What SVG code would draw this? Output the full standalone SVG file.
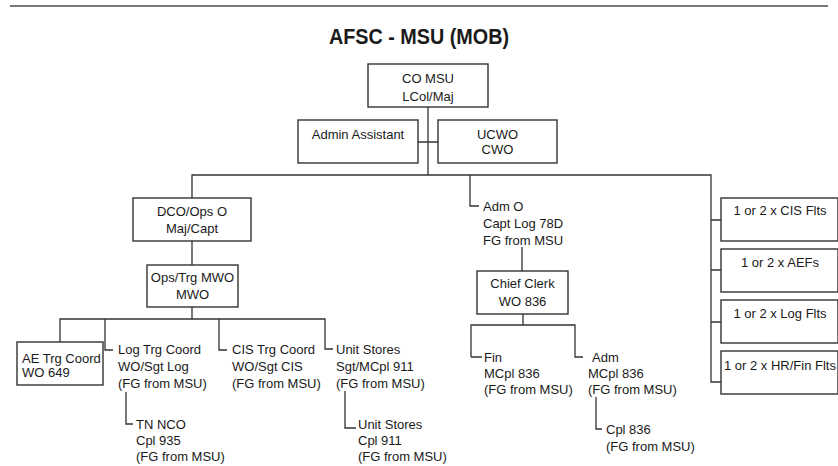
<svg xmlns="http://www.w3.org/2000/svg" width="838" height="466" viewBox="0 0 838 466">
<style>
text{font-family:"Liberation Sans",Arial,sans-serif;font-size:13px;fill:#1a1a1a}
.c{text-anchor:middle}
.t{font-weight:bold;font-size:22px}
rect{fill:#fff;stroke:#333;stroke-width:1.4}
#connectors path{fill:none;stroke:#333;stroke-width:1.3}
</style>
<rect width="838" height="466" style="fill:#fff;stroke:none"/>
<line x1="10" y1="6" x2="828" y2="6" stroke="#777" stroke-width="2.2"/>
<text class="t c" x="419" y="44" textLength="180" lengthAdjust="spacingAndGlyphs">AFSC - MSU (MOB)</text>
<g id="connectors">
<path d="M428 107V175M418 142H438"/>
<path d="M192 198V175H711V382H721M711 220H721M711 270H721M711 322H721"/>
<path d="M192 241V265M192 307V319M60 342V319H325V349H333M105 319V350H113M219 319V350H227"/>
<path d="M126 392V424H133M345 391V428H356"/>
<path d="M470 175V206H479M522 247V271M523 314V325M471 357V325H575V357H583M471 357H482M596 397V429H602"/>
</g>
<g id="co"><rect x="368" y="64" width="120" height="43"/><text class="c" x="428" y="82.5">CO MSU</text><text class="c" x="428" y="101">LCol/Maj</text></g>
<g id="admin"><rect x="298" y="120" width="120" height="43"/><text class="c" x="358" y="139">Admin Assistant</text></g>
<g id="ucwo"><rect x="438" y="120" width="119" height="43"/><text class="c" x="497.5" y="138.5">UCWO</text><text class="c" x="497.5" y="153.5">CWO</text></g>
<g id="dco"><rect x="133" y="198" width="118" height="43"/><text class="c" x="192" y="215.5">DCO/Ops O</text><text class="c" x="192" y="232.5">Maj/Capt</text></g>
<g id="opstrg"><rect x="147" y="265" width="91" height="42"/><text class="c" x="192.5" y="281.5">Ops/Trg MWO</text><text class="c" x="192.5" y="298.5">MWO</text></g>
<g id="aetrg"><rect x="17" y="342" width="86" height="43"/><text x="22" y="363">AE Trg Coord</text><text x="22" y="377">WO 649</text></g>
<g id="logtrg"><text x="118" y="354">Log Trg Coord</text><text x="118" y="371">WO/Sgt Log</text><text x="118" y="388">(FG from MSU)</text></g>
<g id="tnnco"><text x="136" y="428.5">TN NCO</text><text x="136" y="444.5">Cpl 935</text><text x="136" y="460.5">(FG from MSU)</text></g>
<g id="cistrg"><text x="232" y="354">CIS Trg Coord</text><text x="232" y="371">WO/Sgt CIS</text><text x="232" y="388">(FG from MSU)</text></g>
<g id="unitstores1"><text x="336" y="354">Unit Stores</text><text x="336" y="371">Sgt/MCpl 911</text><text x="336" y="388">(FG from MSU)</text></g>
<g id="unitstores2"><text x="358" y="428.5">Unit Stores</text><text x="358" y="444.5">Cpl 911</text><text x="358" y="460.5">(FG from MSU)</text></g>
<g id="admo"><text x="483" y="210.5">Adm O</text><text x="483" y="227.5">Capt Log 78D</text><text x="483" y="244.5">FG from MSU</text></g>
<g id="chiefclerk"><rect x="477" y="271" width="91" height="43"/><text class="c" x="522.5" y="287.5">Chief Clerk</text><text class="c" x="522.5" y="305.5">WO 836</text></g>
<g id="fin"><text x="484" y="361.5">Fin</text><text x="484" y="378">MCpl 836</text><text x="484" y="394">(FG from MSU)</text></g>
<g id="adm"><text x="592" y="361.5">Adm</text><text x="588" y="378">MCpl 836</text><text x="588" y="394">(FG from MSU)</text></g>
<g id="cpl836"><text x="606" y="433.5">Cpl 836</text><text x="606" y="450.5">(FG from MSU)</text></g>
<g id="cisflts"><rect x="721" y="198" width="117" height="43"/><text class="c" x="780" y="214.5">1 or 2 x CIS Flts</text></g>
<g id="aefs"><rect x="721" y="249" width="117" height="43"/><text class="c" x="780" y="266.5">1 or 2 x AEFs</text></g>
<g id="logflts"><rect x="721" y="300" width="117" height="43"/><text class="c" x="780" y="317.5">1 or 2 x Log Flts</text></g>
<g id="hrfinflts"><rect x="721" y="351" width="117" height="43"/><text class="c" x="780" y="369.5">1 or 2 x HR/Fin Flts</text></g>
</svg>
